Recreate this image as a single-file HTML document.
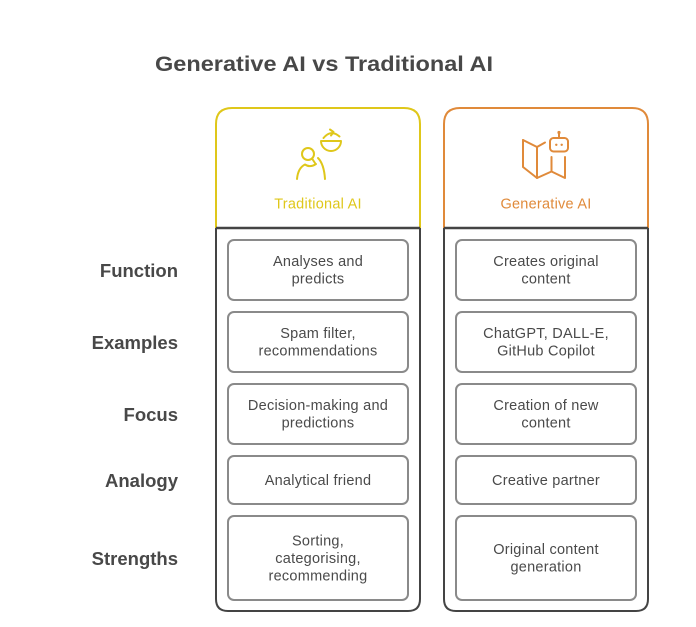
<!DOCTYPE html>
<html>
<head>
<meta charset="utf-8">
<style>
  html, body { margin: 0; padding: 0; background: #ffffff; }
  body { width: 696px; height: 627px; overflow: hidden; }
  svg { display: block; }
  text { font-family: "Liberation Sans", Arial, sans-serif; }
</style>
</head>
<body>
<svg width="696" height="627" viewBox="0 0 696 627" xmlns="http://www.w3.org/2000/svg">
  <rect x="0" y="0" width="696" height="627" fill="#ffffff"/>

  <!-- Title -->
  <text x="155" y="71" font-size="21.5" font-weight="bold" fill="#484848" textLength="338" lengthAdjust="spacingAndGlyphs">Generative AI vs Traditional AI</text>

  <!-- Left column (Traditional AI) -->
  <path d="M216,228 V124 Q216,108 232,108 H404 Q420,108 420,124 V228" fill="none" stroke="#DFC71A" stroke-width="2"/>
  <path d="M216,228 V599 Q216,611 228,611 H408 Q420,611 420,599 V228" fill="none" stroke="#444444" stroke-width="2"/>
  <line x1="216" y1="228" x2="420" y2="228" stroke="#444444" stroke-width="2.5"/>

  <!-- Right column (Generative AI) -->
  <path d="M444,228 V124 Q444,108 460,108 H632 Q648,108 648,124 V228" fill="none" stroke="#E08A3A" stroke-width="2"/>
  <path d="M444,228 V599 Q444,611 456,611 H636 Q648,611 648,599 V228" fill="none" stroke="#444444" stroke-width="2"/>
  <line x1="444" y1="228" x2="648" y2="228" stroke="#444444" stroke-width="2.5"/>

  <!-- Yellow icon -->
  <g fill="none" stroke="#DFC71A" stroke-width="2" stroke-linecap="round" stroke-linejoin="round">
    <circle cx="308" cy="154" r="6"/>
    <path d="M312,158.5 L315,163"/>
    <path d="M297,179 Q298,168 305,164.5 Q310,168 316,164"/>
    <path d="M318,158 Q324,164 325,179"/>
    <path d="M321,141 A10,10 0 0 0 341,141 Z"/>
    <path d="M323.5,138 Q331,129 339.5,136.5"/>
    <path d="M330,129.5 L333.5,132 L331,135.5"/>
  </g>

  <!-- Orange icon -->
  <g fill="none" stroke="#E08A3A" stroke-width="2" stroke-linecap="round" stroke-linejoin="round">
    <path d="M523,140 L537,147 L545,142.5"/>
    <path d="M523,140 V167 L537,178 L551.5,171.5 L565,178 V157"/>
    <path d="M537,147 V178"/>
    <path d="M551.5,157 V171.5"/>
    <rect x="550" y="138" width="18" height="13.5" rx="3.5"/>
    <path d="M559,133.5 V138"/>
  </g>
  <circle cx="559" cy="132.5" r="1.6" fill="#E08A3A"/>
  <circle cx="556.3" cy="144.8" r="1.2" fill="#E08A3A"/>
  <circle cx="561.7" cy="144.8" r="1.2" fill="#E08A3A"/>

  <!-- Header labels -->
  <text x="318" y="208.5" font-size="14.5" letter-spacing="0.25" fill="#DFC71A" text-anchor="middle">Traditional AI</text>
  <text x="546" y="208.5" font-size="14.5" letter-spacing="0.25" fill="#E08A3A" text-anchor="middle">Generative AI</text>

  <!-- Row labels -->
  <g font-size="18.5" font-weight="bold" fill="#484848" text-anchor="end">
    <text x="178" y="277">Function</text>
    <text x="178" y="349">Examples</text>
    <text x="178" y="421">Focus</text>
    <text x="178" y="487">Analogy</text>
    <text x="178" y="565">Strengths</text>
  </g>

  <!-- Inner boxes -->
  <g fill="#ffffff" stroke="#8a8a8a" stroke-width="2">
    <rect x="228" y="240" width="180" height="60" rx="6"/>
    <rect x="228" y="312" width="180" height="60" rx="6"/>
    <rect x="228" y="384" width="180" height="60" rx="6"/>
    <rect x="228" y="456" width="180" height="48" rx="6"/>
    <rect x="228" y="516" width="180" height="84" rx="6"/>

    <rect x="456" y="240" width="180" height="60" rx="6"/>
    <rect x="456" y="312" width="180" height="60" rx="6"/>
    <rect x="456" y="384" width="180" height="60" rx="6"/>
    <rect x="456" y="456" width="180" height="48" rx="6"/>
    <rect x="456" y="516" width="180" height="84" rx="6"/>
  </g>

  <!-- Box texts left -->
  <g font-size="14.5" letter-spacing="0.25" fill="#4a4a4a" text-anchor="middle">
    <text x="318" y="266">Analyses and</text>
    <text x="318" y="283.5">predicts</text>

    <text x="318" y="338">Spam filter,</text>
    <text x="318" y="355.5">recommendations</text>

    <text x="318" y="410">Decision-making and</text>
    <text x="318" y="427.5">predictions</text>

    <text x="318" y="485">Analytical friend</text>

    <text x="318" y="545.5">Sorting,</text>
    <text x="318" y="563">categorising,</text>
    <text x="318" y="580.5">recommending</text>
  </g>

  <!-- Box texts right -->
  <g font-size="14.5" letter-spacing="0.25" fill="#4a4a4a" text-anchor="middle">
    <text x="546" y="266">Creates original</text>
    <text x="546" y="283.5">content</text>

    <text x="546" y="338">ChatGPT, DALL-E,</text>
    <text x="546" y="355.5">GitHub Copilot</text>

    <text x="546" y="410">Creation of new</text>
    <text x="546" y="427.5">content</text>

    <text x="546" y="485">Creative partner</text>

    <text x="546" y="554">Original content</text>
    <text x="546" y="571.5">generation</text>
  </g>
</svg>
</body>
</html>
